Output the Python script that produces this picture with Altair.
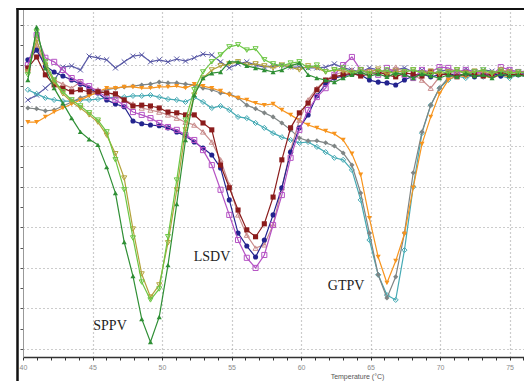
import altair as alt
import pandas as pd

# Temperature (°C) of each reading
temps = [40.35, 40.98, 41.61, 42.24, 42.87, 43.50, 44.13, 44.76, 45.39, 46.02,
         46.65, 47.28, 47.91, 48.54, 49.17, 49.80, 50.43, 51.06, 51.69, 52.32,
         52.95, 53.58, 54.21, 54.84, 55.47, 56.10, 56.73, 57.36, 57.99, 58.62,
         59.25, 59.88, 60.51, 61.14, 61.77, 62.40, 63.03, 63.66, 64.29, 64.92,
         65.55, 66.18, 66.81, 67.44, 68.07, 68.70, 69.33, 69.96, 70.59, 71.22,
         71.85, 72.48, 73.11, 73.74, 74.37, 75.00, 75.63, 76.26]

# -dF/dT readings (arbitrary units) for each well
ntc = [61.5, 62.7, 64.4, 66.4, 69.6, 69.9, 68.9, 72.3, 71.9, 71.4,
       69.4, 70.9, 72.3, 72.6, 70.9, 71.4, 70.9, 71.6, 71.1, 71.9,
       72.8, 72.6, 70.9, 69.4, 70.4, 70.9, 70.1, 69.6, 69.9, 70.1,
       69.6, 69.6, 69.4, 69.4, 69.6, 70.4, 69.4, 68.9, 68.4, 69.4,
       68.9, 68.1, 68.9, 69.4, 68.4, 68.9, 67.9, 68.6, 68.9, 68.1,
       69.1, 68.4, 68.9, 68.6, 68.1, 68.9, 68.4, 68.6]
sppv_1 = [66.4, 79.5, 69.4, 64.4, 60.7, 57.0, 53.6, 51.8, 50.4, 44.9,
          38.5, 26.4, 18.0, 7.4, 1.7, 7.9, 20.7, 35.8, 51.6, 62.7,
          66.9, 68.1, 68.4, 70.9, 70.9, 69.9, 69.4, 68.9, 68.4, 68.9,
          69.9, 70.6, 67.7, 66.9, 66.4, 65.9, 66.9, 67.7, 68.4, 67.4,
          67.9, 67.2, 68.1, 67.7, 66.9, 67.9, 67.4, 66.9, 67.7, 67.2,
          68.1, 67.4, 67.7, 66.9, 67.9, 67.4, 67.7, 67.2]
sppv_2 = [67.7, 78.3, 70.9, 66.4, 63.5, 61.5, 60.0, 58.3, 56.5, 53.6,
          46.7, 39.3, 27.4, 16.5, 12.1, 14.8, 27.7, 41.7, 56.5, 64.0,
          68.4, 70.9, 72.6, 74.6, 75.1, 73.8, 74.1, 71.4, 70.4, 69.9,
          70.6, 70.9, 69.4, 70.1, 68.4, 68.9, 69.4, 68.1, 68.9, 67.9,
          68.4, 68.9, 67.7, 68.4, 68.9, 68.1, 67.7, 68.6, 68.1, 68.9,
          67.9, 68.4, 68.9, 68.1, 68.6, 67.9, 68.4, 68.1]
sppv_3 = [68.4, 76.3, 70.1, 65.9, 63.0, 61.0, 59.5, 57.8, 56.0, 52.8,
          48.2, 42.2, 29.6, 18.5, 12.8, 15.8, 26.2, 39.3, 54.1, 62.7,
          66.9, 68.9, 69.9, 70.4, 70.9, 70.1, 70.4, 69.9, 69.4, 70.1,
          69.6, 68.9, 69.9, 69.4, 68.4, 68.9, 68.6, 68.1, 68.9, 68.4,
          69.1, 67.9, 68.6, 68.4, 68.9, 68.1, 68.6, 67.9, 68.4, 68.9,
          68.1, 68.6, 68.4, 67.9, 68.9, 68.4, 68.1, 68.6]
lsdv_1 = [69.4, 72.1, 67.7, 65.2, 64.4, 63.5, 64.0, 63.5, 63.5, 63.2,
          63.0, 61.5, 60.0, 60.2, 60.0, 59.5, 58.5, 58.3, 57.8, 57.8,
          55.8, 54.1, 45.4, 39.8, 34.3, 29.4, 27.7, 30.9, 37.5, 46.7,
          54.6, 58.3, 60.7, 64.0, 66.4, 67.2, 67.7, 68.1, 67.4, 67.9,
          68.4, 67.7, 67.2, 68.1, 67.9, 67.4, 68.4, 67.7, 67.9, 67.2,
          68.1, 67.7, 67.4, 67.9, 68.4, 67.7, 67.9, 67.4]
lsdv_2 = [70.1, 77.5, 71.9, 70.9, 68.9, 66.9, 65.9, 64.9, 63.5, 62.2,
          61.5, 60.2, 58.5, 57.8, 57.0, 55.8, 54.8, 54.1, 52.8, 51.6,
          49.1, 45.4, 39.3, 33.1, 26.9, 22.5, 20.0, 23.2, 30.6, 38.0,
          47.2, 54.1, 59.0, 62.2, 64.4, 67.7, 70.1, 72.1, 68.9, 68.4,
          67.7, 69.4, 68.4, 67.7, 66.9, 68.9, 68.4, 69.6, 69.4, 68.4,
          68.9, 68.4, 68.1, 67.7, 69.6, 68.9, 68.4, 68.4]
lsdv_3 = [71.4, 73.8, 69.9, 68.4, 67.4, 66.4, 65.4, 64.4, 63.2, 61.5,
          60.5, 59.8, 56.3, 55.6, 55.3, 55.1, 54.6, 53.6, 52.6, 51.1,
          49.6, 47.9, 44.7, 36.8, 28.6, 25.4, 22.7, 26.9, 33.1, 39.8,
          48.6, 54.6, 57.8, 62.5, 65.4, 66.9, 67.4, 67.9, 67.7, 66.4,
          65.9, 65.7, 65.2, 66.4, 67.4, 67.9, 67.2, 67.7, 68.1, 67.4,
          67.9, 67.2, 67.7, 68.1, 67.4, 67.9, 67.7, 68.1]
lsdv_4 = [68.9, 75.1, 69.4, 66.4, 65.4, 64.4, 65.9, 64.4, 64.0, 63.5,
          62.5, 61.5, 60.5, 59.5, 59.0, 58.5, 57.8, 57.0, 56.0, 55.3,
          53.6, 51.1, 46.7, 40.5, 33.1, 28.1, 24.9, 25.7, 30.6, 39.8,
          49.1, 56.5, 61.5, 64.4, 66.4, 67.7, 68.4, 68.9, 67.9, 68.4,
          68.9, 68.1, 69.6, 68.4, 67.7, 66.4, 64.4, 67.2, 68.4, 67.9,
          68.6, 68.1, 67.7, 68.4, 67.9, 68.6, 68.1, 68.4]
gtpv_1 = [56.0, 56.0, 57.3, 58.5, 59.5, 60.5, 61.5, 62.5, 63.5, 64.4,
          64.4, 64.7, 64.7, 64.4, 64.4, 64.7, 64.7, 64.9, 64.4, 65.4,
          64.9, 64.4, 63.7, 62.7, 62.0, 61.5, 60.7, 60.2, 60.5, 59.0,
          57.8, 56.5, 55.3, 54.6, 53.8, 53.1, 51.6, 48.2, 43.0, 32.3,
          22.7, 16.3, 21.7, 28.4, 39.8, 50.6, 57.3, 63.0, 66.4, 67.7,
          67.2, 67.9, 67.4, 66.9, 67.7, 67.2, 67.9, 67.4]
gtpv_2 = [59.5, 59.3, 58.8, 59.0, 60.0, 61.0, 62.0, 62.7, 63.2, 64.0,
          64.4, 64.7, 64.9, 65.2, 65.4, 65.9, 65.7, 65.7, 65.4, 65.2,
          64.4, 64.0, 63.2, 63.0, 62.0, 60.2, 59.3, 58.3, 57.3, 55.8,
          54.1, 52.1, 51.4, 51.4, 50.9, 50.1, 48.4, 45.4, 38.5, 28.6,
          18.3, 12.6, 17.8, 28.6, 43.5, 53.6, 60.2, 64.4, 66.9, 67.9,
          67.4, 68.1, 67.7, 67.2, 67.9, 67.4, 68.1, 67.7]
gtpv_3 = [64.0, 63.0, 62.0, 61.5, 61.2, 61.2, 61.5, 61.5, 61.7, 62.0,
          62.2, 62.2, 62.5, 62.5, 62.7, 62.2, 61.7, 61.5, 61.0, 62.2,
          61.0, 59.5, 60.0, 59.0, 57.3, 57.0, 55.8, 54.6, 53.3, 52.3,
          51.6, 50.9, 51.1, 49.9, 48.6, 47.2, 46.7, 44.2, 36.8, 26.9,
          18.3, 13.3, 12.1, 24.4, 40.0, 53.3, 60.2, 64.4, 66.4, 67.4,
          66.9, 67.7, 67.2, 67.9, 67.4, 66.9, 67.7, 67.2]

series_names = ["NTC", "GTPV 3", "GTPV 2", "GTPV 1", "LSDV 4", "LSDV 3",
                "LSDV 2", "LSDV 1", "SPPV 3", "SPPV 2", "SPPV 1"]
series_values = [ntc, gtpv_3, gtpv_2, gtpv_1, lsdv_4, lsdv_3,
                 lsdv_2, lsdv_1, sppv_3, sppv_2, sppv_1]

# Curve annotations
label_texts = ["SPPV", "LSDV", "GTPV"]
label_temps = [46.26, 53.6, 63.24]
label_values = [5.7, 22.7, 15.6]

rows = []
for name, vals in zip(series_names, series_values):
    for t, v in zip(temps, vals):
        rows.append({"series": name, "temp": t, "value": v})
df = pd.DataFrame(rows)
label_df = pd.DataFrame({"label": label_texts, "temp": label_temps, "value": label_values})

X_PATH = "M-1,-1L1,1M-1,1L1,-1"
styles = {
    "NTC": ("#5a5aa6", X_PATH, False),
    "SPPV 1": ("#2f8f35", "triangle-up", True),
    "SPPV 2": ("#6cc644", "triangle-down", False),
    "SPPV 3": ("#b3a23a", "triangle-down", False),
    "LSDV 1": ("#8b1c1c", "square", True),
    "LSDV 2": ("#b553c4", "square", False),
    "LSDV 3": ("#23238e", "circle", True),
    "LSDV 4": ("#c98c8c", "triangle-up", False),
    "GTPV 1": ("#f7941d", "triangle-down", True),
    "GTPV 2": ("#7f8585", "diamond", True),
    "GTPV 3": ("#45aab4", "diamond", False),
}

grid_style = dict(gridDash=[1, 3], gridColor="#9a9a9a", gridWidth=1.2)

x_axis = alt.Axis(
    values=list(range(40, 77)),
    labelExpr="datum.value % 5 === 0 ? datum.label : ''",
    labelOverlap=False,
    labelFlush=False,
    labelFontSize=7,
    labelFont="Liberation Sans",
    labelColor="#8a8a8a",
    labelPadding=3,
    tickSize=3,
    tickColor="#333333",
    domainColor="#333333",
    domainWidth=1.5,
    grid=True,
    gridOpacity={"condition": {"test": "datum.value % 5 === 0 && datum.value > 40", "value": 1}, "value": 0},
    title="Temperature (°C)",
    titleFont="Liberation Sans",
    titleFontSize=7,
    titleFontWeight="normal",
    titleColor="#555555",
    titleX=334,
    titleY=19,
    titleAlign="center",
    titleBaseline="middle",
    **grid_style,
)
y_axis = alt.Axis(
    values=list(range(0, 85, 5)),
    labels=False,
    title=None,
    tickSize=3,
    tickColor="#555555",
    domainColor="#999999",
    domainWidth=1,
    grid=True,
    gridOpacity={"condition": {"test": "datum.value % 10 === 0", "value": 1}, "value": 0},
    **grid_style,
)

x_enc = alt.X("temp:Q", scale=alt.Scale(domain=[40, 76.04], nice=False, zero=False), axis=x_axis)
y_enc = alt.Y("value:Q", scale=alt.Scale(domain=[-2, 84.2], nice=False, zero=False), axis=y_axis)

layers = []
for name in series_names:
    color, shape, filled = styles[name]
    base = alt.Chart(df).transform_filter(alt.datum.series == name)
    layers.append(base.mark_line(color=color, strokeWidth=1.2).encode(x=x_enc, y=y_enc))
    layers.append(base.mark_point(shape=shape, filled=filled, color=color, size=26,
                                  strokeWidth=1, opacity=1).encode(x=x_enc, y=y_enc))

labels = alt.Chart(label_df).mark_text(font="Liberation Serif", fontSize=14, color="#222222").encode(
    x=x_enc, y=y_enc, text="label:N")

frame = alt.Data(values=[{"k": 1}])
left_edge = alt.Chart(frame).mark_rule(color="#111111", strokeWidth=2.5).encode(
    x=alt.value(-5.5), y=alt.value(0), y2=alt.value(373))
top_edge = alt.Chart(frame).mark_rule(color="#111111", strokeWidth=2.5).encode(
    x=alt.value(-6.5), x2=alt.value(510), y=alt.value(0.8))

chart = alt.layer(*layers, labels, left_edge, top_edge).properties(
    width=501,
    height=349,
    autosize=alt.AutoSizeParams(type="none"),
    padding={"left": 15, "top": 0, "right": 0, "bottom": 24},
    background="white",
).configure_view(strokeWidth=0)

chart.save("out.html", embed_options={"renderer": "svg", "actions": False})
